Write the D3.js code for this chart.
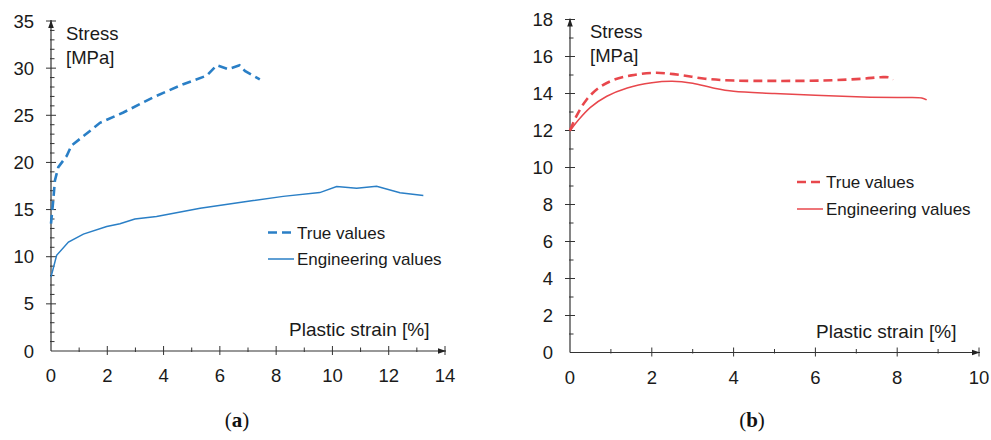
<!DOCTYPE html>
<html>
<head>
<meta charset="utf-8">
<script src="https://cdn.jsdelivr.net/npm/d3@7"></script>
<style>
  body { margin: 0; background: #fff; }
  svg { display: block; font-family: "Liberation Sans", Arial, sans-serif; }
</style>
</head>
<body>
<svg width="991" height="440"></svg>
<script>
'use strict'

const BLUE = '#2a7fc6';
const RED = '#e8474c';

// panel (a)
const aTrueX = [0, 0.08, 0.14, 0.26, 0.56, 0.73, 1.2, 1.74, 2.57, 3.63, 4.7, 5.53, 5.89, 6.3, 6.7, 6.89, 7.42];
const aTrueY = [13.5, 16, 18.1, 19.5, 20.7, 21.8, 22.9, 24.2, 25.3, 26.9, 28.3, 29.2, 30.3, 29.9, 30.3, 29.7, 28.8];
const aEngX = [0, 0.2, 0.62, 1.15, 1.98, 2.45, 2.98, 3.75, 5.3, 7.19, 8.25, 9.55, 10.15, 10.86, 11.57, 12.4, 13.23];
const aEngY = [7.85, 10.15, 11.55, 12.4, 13.2, 13.5, 14.0, 14.27, 15.15, 15.96, 16.4, 16.8, 17.44, 17.27, 17.48, 16.78, 16.5];
const aXTicks = [0, 2, 4, 6, 8, 10, 12, 14];
const aYTicks = [0, 5, 10, 15, 20, 25, 30, 35];

// panel (b)
const bTrueX = [0, 0.15, 0.4, 0.7, 1.05, 1.5, 2.1, 2.7, 3.3, 4.0, 5.0, 6.2, 7.17, 7.6, 7.82, 7.89];
const bTrueY = [12.0, 12.75, 13.65, 14.3, 14.72, 14.98, 15.12, 15.0, 14.8, 14.7, 14.68, 14.7, 14.8, 14.88, 14.86, 14.73];
const bEngX = [0, 0.2, 0.5, 0.9, 1.4, 2.0, 2.5, 3.0, 3.5, 4.0, 5.0, 6.0, 7.0, 8.0, 8.6, 8.72];
const bEngY = [11.97, 12.55, 13.25, 13.85, 14.3, 14.58, 14.66, 14.55, 14.3, 14.12, 14.0, 13.9, 13.82, 13.78, 13.76, 13.65];
const bXTicks = [0, 2, 4, 6, 8, 10];
const bYTicks = [0, 2, 4, 6, 8, 10, 12, 14, 16, 18];

const legendNames = ['True values', 'Engineering values'];

const svg = d3.select('svg');

svg.append('defs').append('marker')
  .attr('id', 'arrow')
  .attr('viewBox', '0 0 10 10')
  .attr('refX', 10).attr('refY', 5)
  .attr('markerWidth', 8).attr('markerHeight', 8)
  .attr('markerUnits', 'userSpaceOnUse')
  .attr('orient', 'auto')
  .append('path')
  .attr('d', 'M0,1.5L10,5L0,8.5Z')
  .attr('fill', '#222');

const panels = [
  {
    x: d3.scaleLinear([0, 14], [51, 445]),
    y: d3.scaleLinear([0, 35], [351, 21]),
    xt: aXTicks, yt: aYTicks, xMinor: 1, yMinor: 1,
    color: BLUE, curve: d3.curveLinear,
    series: [[aTrueX, aTrueY], [aEngX, aEngY]],
    stress: [66, 40], strain: [289, 336],
    legend: [268, 232.5, 26.5], tag: [237, 427], label: 'a'
  },
  {
    x: d3.scaleLinear([0, 10], [570, 979]),
    y: d3.scaleLinear([0, 18], [352.5, 19.5]),
    xt: bXTicks, yt: bYTicks, xMinor: 1, yMinor: 1,
    color: RED, curve: d3.curveCatmullRom.alpha(0.5),
    series: [[bTrueX, bTrueY], [bEngX, bEngY]],
    stress: [590, 38], strain: [816, 338],
    legend: [797, 182, 27], tag: [752, 427], label: 'b'
  }
];

panels.forEach(p => {
  const g = svg.append('g');
  const x = p.x, y = p.y;
  const [x0, x1] = x.range();
  const [y0, y1] = y.range();

  // minor ticks
  const xMin = d3.range(x.domain()[0], x.domain()[1], p.xMinor).filter(v => !p.xt.includes(v));
  const yMin = d3.range(y.domain()[0], y.domain()[1], p.yMinor).filter(v => !p.yt.includes(v));
  g.selectAll('.xminor').data(xMin).join('line')
    .attr('x1', d => x(d)).attr('x2', d => x(d))
    .attr('y1', y0 - 3.5).attr('y2', y0 + 1)
    .attr('stroke', '#333').attr('stroke-width', 1);
  g.selectAll('.yminor').data(yMin).join('line')
    .attr('x1', x0 - 1).attr('x2', x0 + 3.5)
    .attr('y1', d => y(d)).attr('y2', d => y(d))
    .attr('stroke', '#333').attr('stroke-width', 1);

  // major ticks
  g.selectAll('.xmajor').data(p.xt.slice(1)).join('line')
    .attr('x1', d => x(d)).attr('x2', d => x(d))
    .attr('y1', y0 - 5).attr('y2', y0 + 4)
    .attr('stroke', '#333').attr('stroke-width', 1);
  g.selectAll('.ymajor').data(p.yt.slice(1)).join('line')
    .attr('x1', x0 - 5).attr('x2', x0 + 5)
    .attr('y1', d => y(d)).attr('y2', d => y(d))
    .attr('stroke', '#333').attr('stroke-width', 1);

  // axis lines with arrows
  g.append('line')
    .attr('x1', x0).attr('x2', x1 + 1).attr('y1', y0).attr('y2', y0)
    .attr('stroke', '#333').attr('stroke-width', 1.2)
    .attr('marker-end', 'url(#arrow)');
  g.append('line')
    .attr('x1', x0).attr('x2', x0).attr('y1', y0).attr('y2', y1 - 1)
    .attr('stroke', '#333').attr('stroke-width', 1.2)
    .attr('marker-end', 'url(#arrow)');

  // tick labels
  g.selectAll('.xl').data(p.xt).join('text')
    .attr('x', d => x(d)).attr('y', y0 + 31)
    .attr('text-anchor', 'middle')
    .attr('font-size', 18.5).attr('fill', '#1a1a1a')
    .text(d => d);
  g.selectAll('.yl').data(p.yt).join('text')
    .attr('x', x0 - 17).attr('y', d => y(d) + 6.5)
    .attr('text-anchor', 'end')
    .attr('font-size', 18.5).attr('fill', '#1a1a1a')
    .text(d => d);

  // axis titles
  g.append('text').attr('x', p.stress[0]).attr('y', p.stress[1])
    .attr('font-size', 18.5).attr('fill', '#1a1a1a').text('Stress');
  g.append('text').attr('x', p.stress[0]).attr('y', p.stress[1] + 24)
    .attr('font-size', 18.5).attr('fill', '#1a1a1a').text('[MPa]');
  g.append('text').attr('x', p.strain[0]).attr('y', p.strain[1])
    .attr('font-size', 19).attr('fill', '#1a1a1a').text('Plastic strain [%]');

  // curves
  const line = d3.line().x(d => x(d[0])).y(d => y(d[1])).curve(p.curve);
  p.series.forEach((s, i) => {
    const pts = s[0].map((v, k) => [v, s[1][k]]);
    g.append('path')
      .datum(pts)
      .attr('d', line)
      .attr('fill', 'none')
      .attr('stroke', p.color)
      .attr('stroke-width', i === 0 ? 2.6 : 1.5)
      .attr('stroke-dasharray', i === 0 ? '9,5' : null);
  });

  // legend
  const [lx, ly, lstep] = p.legend;
  legendNames.forEach((name, i) => {
    g.append('line')
      .attr('x1', lx).attr('x2', lx + 26)
      .attr('y1', ly + i * lstep).attr('y2', ly + i * lstep)
      .attr('stroke', p.color)
      .attr('stroke-width', i === 0 ? 2.6 : 1.5)
      .attr('stroke-dasharray', i === 0 ? '9,5' : null);
    g.append('text')
      .attr('x', lx + 29).attr('y', ly + i * lstep + 6)
      .attr('font-size', 17).attr('fill', '#1a1a1a')
      .text(name);
  });

  // panel tag
  const tag = svg.append('text')
    .attr('x', p.tag[0]).attr('y', p.tag[1])
    .attr('text-anchor', 'middle')
    .attr('font-family', '"Liberation Serif", "DejaVu Serif", serif')
    .attr('font-size', 21).attr('fill', '#111');
  tag.append('tspan').text('(');
  tag.append('tspan').attr('font-weight', 'bold').text(p.label);
  tag.append('tspan').text(')');
});
</script>
</body>
</html>
